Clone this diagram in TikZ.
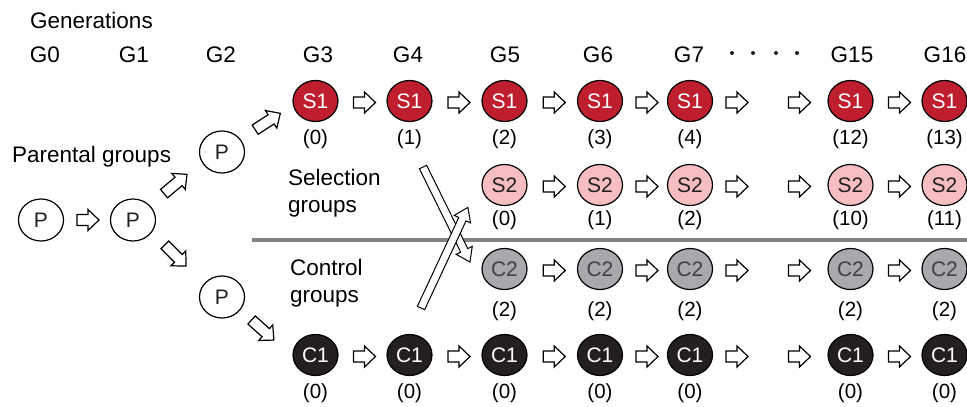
\documentclass[tikz,border=0pt]{standalone}
\usepackage{fontspec}
\setmainfont{Liberation Sans}
\usetikzlibrary{calc,shapes.geometric}
\definecolor{sred}{HTML}{BE1E2D}
\definecolor{spink}{HTML}{F6BEC1}
\definecolor{cgray}{HTML}{A7A9AC}
\definecolor{cblack}{HTML}{231F20}
\definecolor{sepgray}{HTML}{808285}
\tikzset{
  big/.style={font=\fontsize{22.5}{27}\selectfont},
  small/.style={font=\fontsize{20.5}{24}\selectfont},
  incirc/.style={font=\fontsize{21}{24}\selectfont},
  circ/.style={ellipse, draw=black, line width=1.2pt, minimum width=45pt, minimum height=41pt, inner sep=0pt, incirc},
  pcirc/.style={circ, fill=white, text=cblack, minimum height=42pt},
  s1/.style={circ, fill=sred, text=white},
  s2/.style={circ, fill=spink, text=cblack},
  c2/.style={circ, fill=cgray, text=black!75},
  c1/.style={circ, fill=cblack, text=white},
  lbl/.style={small, inner sep=0pt},
  glbl/.style={big, anchor=base, inner sep=0pt},
  arrowbox/.style={draw=black, fill=white, line width=1.2pt, line join=miter},
  longbox/.style={draw=black, fill=white, line width=1pt, line join=miter},
  pics/barrow/.style={code={\draw[arrowbox] ({-#1/2},-5.5) -- ({#1/2-11},-5.5) -- ({#1/2-11},-10.5) -- ({#1/2},0) -- ({#1/2-11},10.5) -- ({#1/2-11},5.5) -- ({-#1/2},5.5) -- cycle;}},
  pics/barrow/.default=22,
}
\begin{document}
\begin{tikzpicture}[x=1pt,y=-1pt]
\useasboundingbox (0,0) rectangle (967,407);
% titles
\node[big, anchor=base west, inner sep=0pt] (gen) at (30,28) {Generations};
\foreach \n/\x in {0/45,1/134,2/221,3/318,4/408,5/505,6/598,7/689,15/852,16/945}
  \node[glbl] (g\n) at (\x,62) {G\n};
\foreach \x in {732,753,776,797} \fill[cblack] (\x,53) circle (2);
\node[big, anchor=base west, inner sep=0pt] (pg) at (12,162) {Parental groups};
\node[big, anchor=base west, align=left, inner sep=0pt] (sg) at (288,212) {Selection\\groups};
\node[big, anchor=base west, align=left, inner sep=0pt] (cg) at (290,302) {Control\\groups};
% separator
\coordinate (sepL) at (252,240);
\coordinate (sepR) at (967,240);
\draw[sepgray, line width=4pt] (sepL) -- (sepR);
% long crossing arrows
\coordinate (la0) at (423,167);
\coordinate (lb0) at (421,308);
\begin{scope}[shift={(la0)}, rotate=-63.7]
  \draw[longbox] (0,-4) -- (93,-4) -- (93,-9) -- (106,0) -- (93,9) -- (93,4) -- (0,4) -- cycle;
\end{scope}
\begin{scope}[shift={(lb0)}, rotate=65]
  \draw[longbox] (0,-4) -- (98,-4) -- (98,-9) -- (111,0) -- (98,9) -- (98,4) -- (0,4) -- cycle;
\end{scope}
% parental circles
\node[pcirc] (p0) at (41,220) {P};
\node[pcirc] (p1) at (133,220) {P};
\node[pcirc] (p2u) at (222,152) {P};
\node[pcirc] (p2l) at (222,297) {P};
% generation circles
\foreach \c/\x/\a in {3/315.5/0, 4/409.5/1, 5/504.5/2, 6/600/3, 7/690/4, 15/850.5/12, 16/944.5/13} {
  \node[s1] (s1-\c) at (\x,101) {S1};
  \node[lbl] (ls1-\c) at (\x,139) {(\a)};
  \node[c1] (c1-\c) at (\x,355) {C1};
  \node[lbl] (lc1-\c) at (\x,393) {(0)};
}
\foreach \c/\x/\a in {5/504.5/0, 6/600/1, 7/690/2, 15/850.5/10, 16/944.5/11} {
  \node[s2] (s2-\c) at (\x,185) {S2};
  \node[lbl] (ls2-\c) at (\x,220) {(\a)};
  \node[c2] (c2-\c) at (\x,269) {C2};
  \node[lbl] (lc2-\c) at (\x,311) {(2)};
}
% short block arrows
\pic at ($(p0)!.5!(p1)+(1,0)$) {barrow};
\pic[rotate=40] at ($(p1)!.5!(p2u)+(-2,-2)$) {barrow=30};
\pic[rotate=-45] at ($(p1)!.5!(p2l)+(-2,-3)$) {barrow=30};
\pic[rotate=33] at ($(p2u)!.5!(s1-3)+(-1,-5)$) {barrow=30};
\pic[rotate=-42] at ($(p2l)!.5!(c1-3)+(-6,4)$) {barrow=30};
\foreach \r in {s1,c1} {
  \foreach \p/\q in {3/4,4/5,5/6,6/7,15/16}
    \pic at ($(\r-\p)!.5!(\r-\q)+(2,1.5)$) {barrow};
}
\foreach \r in {s2,c2} {
  \foreach \p/\q in {5/6,6/7,15/16}
    \pic at ($(\r-\p)!.5!(\r-\q)+(2,1.5)$) {barrow};
}
\foreach \r in {s1,s2,c2,c1} {
  \pic at ($(\r-7)+(47,1.5)$) {barrow};
  \pic at ($(\r-15)+(-51,1.5)$) {barrow};
}
\end{tikzpicture}
\end{document}
